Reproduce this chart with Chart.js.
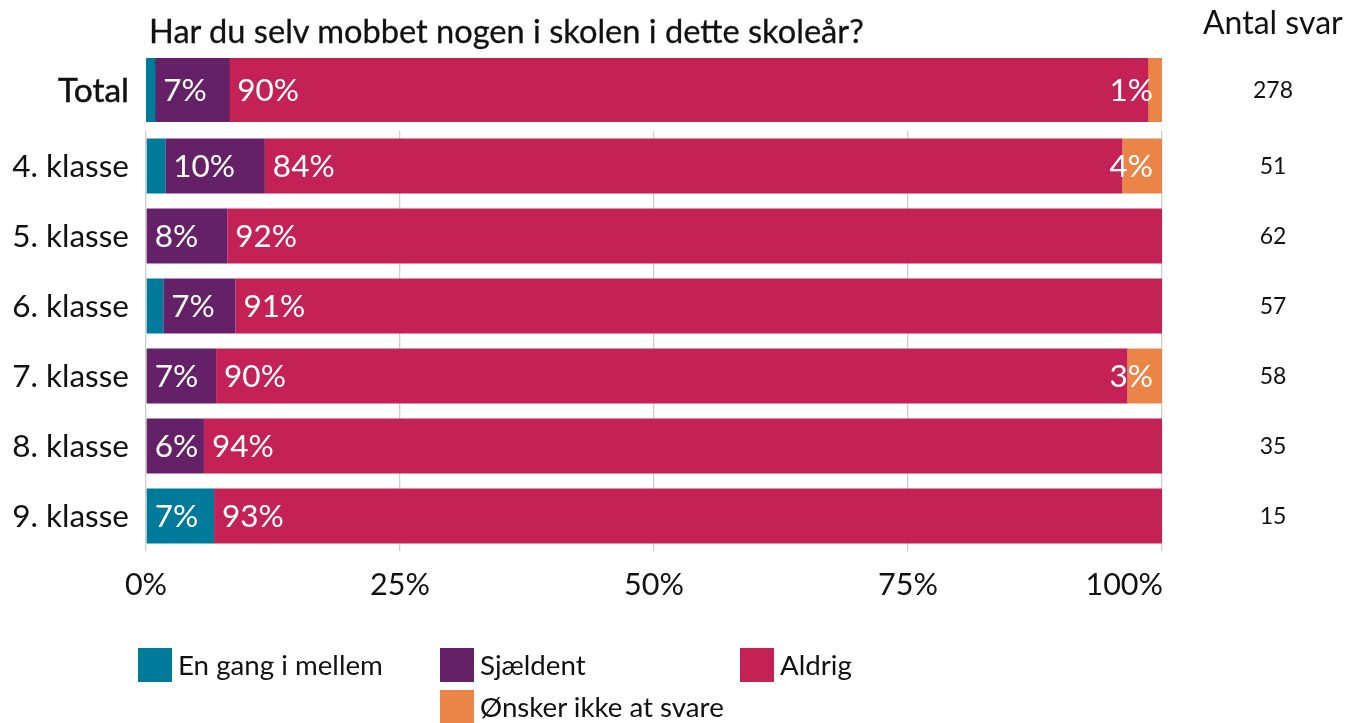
<!DOCTYPE html>
<html>
<head>
<meta charset="utf-8">
<script src="https://cdn.jsdelivr.net/npm/chart.js@4.4.1/dist/chart.umd.min.js"></script>
<style>
  html, body { margin: 0; padding: 0; background: #fff; }
  body { width: 1347px; height: 723px; position: relative; overflow: hidden; font-family: Lato, "Open Sans", sans-serif; color: #111; }
  canvas { position: absolute; left: 0; }
  #c1 { top: 0; }
  #c2 { top: 130px; }
  .title { position: absolute; left: 149px; top: 11px; font-size: 32.6px; line-height: 40px; white-space: nowrap; -webkit-text-stroke: 0.3px #111; }
  .hdr { position: absolute; left: 1203px; top: 2px; font-size: 32px; line-height: 40px; white-space: nowrap; }
  .leg { position: absolute; font-size: 27.7px; line-height: 34px; white-space: nowrap; display: flex; align-items: center; }
  .leg span.sw { display: inline-block; width: 34px; height: 34px; margin-right: 6px; }
</style>
</head>
<body>
<canvas id="c1" width="1347" height="130"></canvas>
<canvas id="c2" width="1347" height="593"></canvas>
<div class="title">Har du selv mobbet nogen i skolen i dette skoleår?</div>
<div class="hdr">Antal svar</div>
<div id="legend"></div>
<script>
const categories = ['Total', '4. klasse', '5. klasse', '6. klasse', '7. klasse', '8. klasse', '9. klasse'];
const seriesNames = ['En gang i mellem', 'Sjældent', 'Aldrig', 'Ønsker ikke at svare'];
const enGangImellem = [0.9, 1.9, 0, 1.7, 0, 0, 6.7];
const sjaeldent = [7.3, 9.8, 8.0, 7.1, 6.9, 5.7, 0];
const aldrig = [90.4, 84.4, 92.0, 91.2, 89.7, 94.3, 93.3];
const onskerIkke = [1.4, 3.9, 0, 0, 3.4, 0, 0];
const antalSvar = [278, 51, 62, 57, 58, 35, 15];
const xTickValues = [0, 25, 50, 75, 100];
const xTickLabels = ['0%', '25%', '50%', '75%', '100%'];

const colors = ['#007a9a', '#652168', '#c42256', '#ea8547'];
const seriesValues = [enGangImellem, sjaeldent, aldrig, onskerIkke];
const FONT = 'Lato, "Open Sans", sans-serif';

// legend (HTML)
const legPos = [[138, 648], [440, 648], [740, 648], [440, 690]];
const legend = document.getElementById('legend');
seriesNames.forEach((n, i) => {
  const d = document.createElement('div');
  d.className = 'leg';
  d.style.left = legPos[i][0] + 'px';
  d.style.top = legPos[i][1] + 'px';
  d.innerHTML = '<span class="sw" style="background:' + colors[i] + '"></span>' + n;
  legend.appendChild(d);
});

function makeDatasets(from, to) {
  return seriesNames.map((n, s) => ({
    label: n,
    data: seriesValues[s].slice(from, to),
    backgroundColor: colors[s],
    borderWidth: 0,
    borderSkipped: false
  }));
}

function labelPlugin(offset, catFont, catStroke) {
  return {
    id: 'labels' + offset,
    afterDatasetsDraw(chart) {
      const ctx = chart.ctx;
      ctx.save();
      ctx.textBaseline = 'middle';
      chart.data.datasets.forEach((ds, s) => {
        const meta = chart.getDatasetMeta(s);
        meta.data.forEach((el, i) => {
          const v = ds.data[i];
          if (!v) return;
          const show = s === 3 ? v > 0 : v >= 3;
          if (!show) return;
          const txt = Math.round(v) + '%';
          ctx.fillStyle = '#ffffff';
          ctx.font = '31.5px ' + FONT;
          const left = Math.min(el.base, el.x), right = Math.max(el.base, el.x);
          if (s === 3) {
            ctx.textAlign = 'right';
            ctx.fillText(txt, right - 9, el.y + 1);
          } else {
            ctx.textAlign = 'left';
            ctx.fillText(txt, left + 8, el.y + 1);
          }
        });
      });
      const yScale = chart.scales.y;
      chart.data.labels.forEach((lab, i) => {
        const y = yScale.getPixelForValue(i);
        ctx.fillStyle = '#111';
        ctx.textAlign = 'right';
        ctx.font = catFont;
        ctx.fillText(lab, 129, y + 1);
        if (catStroke) {
          ctx.strokeStyle = '#111';
          ctx.lineWidth = catStroke;
          ctx.strokeText(lab, 129, y + 1);
        }
        ctx.textAlign = 'center';
        ctx.font = '23px ' + FONT;
        ctx.fillText(String(antalSvar[i + offset]), 1273, y + 1);
      });
      ctx.restore();
    }
  };
}

const xTickPlugin = {
  id: 'xticks',
  afterDraw(chart) {
    const ctx = chart.ctx;
    const xs = chart.scales.x;
    ctx.save();
    ctx.fillStyle = '#111';
    ctx.font = '30.5px ' + FONT;
    ctx.textBaseline = 'middle';
    xTickValues.forEach((v, i) => {
      const x = xs.getPixelForValue(v);
      const last = i === xTickValues.length - 1;
      ctx.textAlign = last ? 'right' : 'center';
      ctx.fillText(xTickLabels[i], last ? x + 1 : x, 455);
    });
    ctx.restore();
  }
};

function baseOptions(padding, barPct, grid) {
  return {
    indexAxis: 'y',
    responsive: false,
    animation: false,
    layout: { padding: padding },
    plugins: { legend: { display: false }, tooltip: { enabled: false } },
    datasets: { bar: { categoryPercentage: 1, barPercentage: barPct } },
    scales: {
      x: {
        stacked: true, min: 0, max: 100,
        display: grid,
        afterFit: s => { s.height = 0; },
        ticks: { display: false, stepSize: 25 },
        border: { display: false },
        grid: { color: '#cfcfcf', lineWidth: 1.3, drawTicks: false }
      },
      y: { stacked: true, display: false }
    }
  };
}

new Chart(document.getElementById('c1'), {
  type: 'bar',
  data: { labels: categories.slice(0, 1), datasets: makeDatasets(0, 1) },
  options: baseOptions({ left: 146, right: 1347 - 1162, top: 58, bottom: 130 - 122 }, 1, false),
  plugins: [labelPlugin(0, '33.5px ' + FONT, 0.5)]
});

new Chart(document.getElementById('c2'), {
  type: 'bar',
  data: { labels: categories.slice(1), datasets: makeDatasets(1, 7) },
  options: baseOptions({ left: 146, right: 1347 - 1162, top: 1, bottom: 593 - 421 }, 55 / 70, true),
  plugins: [labelPlugin(1, '31.5px ' + FONT, 0), xTickPlugin]
});
</script>
</body>
</html>
